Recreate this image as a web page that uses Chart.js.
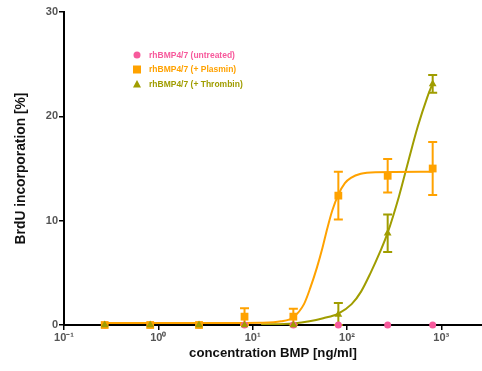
<!DOCTYPE html>
<html>
<head>
<meta charset="utf-8">
<script src="https://cdn.jsdelivr.net/npm/chart.js@4.4.1/dist/chart.umd.min.js"></script>
<style>
  html, body { margin: 0; padding: 0; background: #fff; }
  #wrap { position: relative; width: 482px; height: 371px; }
</style>
</head>
<body>
<div id="wrap"><canvas id="bmpChart"></canvas></div>
<script>
// concentrations (ng/ml) and measured means / errors
const conc = [0.27, 0.82, 2.7, 8.2, 27, 81, 270, 810];
const untreated = [0, 0, 0, 0, 0, 0, 0, 0];
const plasmin = [0, 0, 0, 0.8, 0.8, 12.4, 14.3, 15.0];
const plasminErr = [0, 0, 0, 0.8, 0.75, 2.3, 1.6, 2.55];
const thrombin = [0, 0, 0, 0, 0, 1.0, 8.8, 23.1];
const thrombinErr = [0, 0, 0, 0, 0, 1.1, 1.8, 0.85];

// fitted curves
const plasminFitX = [0.27, 1, 5, 12, 20, 27, 35, 41, 48, 55, 62, 70, 81, 95, 110, 140, 200, 810];
const plasminFitY = [0.2, 0.2, 0.2, 0.22, 0.35, 0.75, 2.0, 3.6, 5.5, 7.4, 9.3, 11.0, 12.5, 13.6, 14.1, 14.5, 14.65, 14.7];
const thrombinFitX = [12.3, 27, 40, 56, 81, 112, 141, 178, 224, 269, 355, 447, 562, 708, 813];
const thrombinFitY = [0.05, 0.15, 0.35, 0.65, 1.1, 2.0, 3.2, 5.0, 7.0, 8.8, 12.3, 15.7, 19.0, 21.8, 23.2];

const xTicks = [0.1, 1, 10, 100, 1000];
const xTickLabels = ['10\u207B\u00B9', '10\u2070', '10\u00B9', '10\u00B2', '10\u00B3'];
const yTicks = [0, 10, 20, 30];

const PINK = '#f75a9c';
const ORANGE = '#ffa200';
const OLIVE = '#a09d00';
const FONT = "'Liberation Sans', Arial, sans-serif";

const pts = (xs, ys) => xs.map((x, i) => ({ x: x, y: ys[i] }));

const errorBars = {
  id: 'errorBars',
  beforeDatasetsDraw(chart) {
    const ctx = chart.ctx;
    const xs = chart.scales.x, ys = chart.scales.y;
    chart.data.datasets.forEach(ds => {
      if (!ds.errors) return;
      ctx.save();
      ctx.strokeStyle = ds.borderColor;
      ctx.lineWidth = 2;
      ds.data.forEach((p, i) => {
        const e = ds.errors[i];
        if (!e) return;
        const px = xs.getPixelForValue(p.x);
        const top = ys.getPixelForValue(p.y + e);
        const bot = ys.getPixelForValue(Math.max(0, p.y - e));
        ctx.beginPath();
        ctx.moveTo(px, top); ctx.lineTo(px, bot);
        ctx.moveTo(px - 4.5, top); ctx.lineTo(px + 4.5, top);
        ctx.moveTo(px - 4.5, bot); ctx.lineTo(px + 4.5, bot);
        ctx.stroke();
      });
      ctx.restore();
    });
  }
};

const legendBox = {
  id: 'legendBox',
  afterDraw(chart) {
    const ctx = chart.ctx;
    const items = chart.data.datasets.filter(d => d.legendRow !== undefined);
    ctx.save();
    ctx.font = 'bold 8.5px ' + FONT;
    ctx.textBaseline = 'middle';
    items.forEach(d => {
      const y = 55 + d.legendRow * 14.5;
      const x = 137;
      ctx.fillStyle = d.backgroundColor;
      ctx.beginPath();
      if (d.pointStyle === 'circle') {
        ctx.arc(x, y, 3.5, 0, Math.PI * 2);
      } else if (d.pointStyle === 'rect') {
        ctx.rect(x - 4, y - 4, 8, 8);
      } else {
        ctx.moveTo(x, y - 4); ctx.lineTo(x + 4, y + 3.5); ctx.lineTo(x - 4, y + 3.5); ctx.closePath();
      }
      ctx.fill();
      ctx.fillText(d.label, 149, y + 0.5);
    });
    ctx.restore();
  }
};

new Chart(document.getElementById('bmpChart').getContext('2d'), {
  type: 'scatter',
  data: {
    datasets: [
      {
        label: 'rhBMP4/7 (+ Thrombin) fit',
        data: pts(thrombinFitX, thrombinFitY),
        showLine: true, borderColor: OLIVE, borderWidth: 2, pointRadius: 0,
        cubicInterpolationMode: 'monotone', order: 5
      },
      {
        label: 'rhBMP4/7 (+ Plasmin) fit',
        data: pts(plasminFitX, plasminFitY),
        showLine: true, borderColor: ORANGE, borderWidth: 2, pointRadius: 0,
        cubicInterpolationMode: 'monotone', order: 4
      },
      {
        label: 'rhBMP4/7 (untreated)',
        data: pts(conc, untreated),
        pointStyle: 'circle', pointRadius: 3.5, clip: false,
        backgroundColor: PINK, borderColor: PINK, borderWidth: 0,
        legendRow: 0, order: 3
      },
      {
        label: 'rhBMP4/7 (+ Plasmin)',
        data: pts(conc, plasmin), errors: plasminErr,
        pointStyle: 'rect', pointRadius: 5.5, clip: false,
        backgroundColor: ORANGE, borderColor: ORANGE, borderWidth: 0,
        legendRow: 1, order: 2
      },
      {
        label: 'rhBMP4/7 (+ Thrombin)',
        data: pts(conc, thrombin), errors: thrombinErr,
        pointStyle: 'triangle', pointRadius: 4.5, clip: false,
        backgroundColor: OLIVE, borderColor: OLIVE, borderWidth: 0,
        legendRow: 2, order: 1
      }
    ]
  },
  options: {
    responsive: true,
    maintainAspectRatio: false,
    animation: false,
    layout: { autoPadding: false, padding: { top: 12, right: 0, left: 0, bottom: 0 } },
    plugins: { legend: { display: false }, tooltip: { enabled: false } },
    scales: {
      x: {
        type: 'logarithmic',
        min: 0.1,
        max: 2700,
        afterBuildTicks: s => { s.ticks = xTicks.map(v => ({ value: v })); },
        afterFit: s => { s.height = 46; s.paddingRight = 0; s.paddingLeft = 0; },
        border: { display: true, color: '#000', width: 2 },
        grid: { display: true, drawOnChartArea: false, drawTicks: true, tickLength: 5, color: '#000', lineWidth: 1.5 },
        ticks: {
          autoSkip: false, maxRotation: 0, padding: 1,
          color: '#555', font: { family: FONT, size: 11, weight: 'bold' },
          callback: (v) => { const i = xTicks.indexOf(v); return i >= 0 ? xTickLabels[i] : ''; }
        },
        title: {
          display: true, text: 'concentration BMP [ng/ml]', color: '#111',
          font: { family: FONT, size: 13.2, weight: 'bold' }, padding: { top: 1, bottom: 10 }
        }
      },
      y: {
        min: 0,
        max: 30,
        afterBuildTicks: s => { s.ticks = yTicks.map(v => ({ value: v })); },
        afterFit: s => { s.width = 64; },
        border: { display: true, color: '#000', width: 2 },
        grid: { display: true, drawOnChartArea: false, drawTicks: true, tickLength: 5, color: '#000', lineWidth: 1.5 },
        ticks: { padding: 1, color: '#555', font: { family: FONT, size: 11, weight: 'bold' } },
        title: {
          display: true, text: 'BrdU incorporation [%]', color: '#111',
          font: { family: FONT, size: 13.8, weight: 'bold' }, padding: { top: 13, bottom: 4 }
        }
      }
    }
  },
  plugins: [errorBars, legendBox]
});
</script>
</body>
</html>
